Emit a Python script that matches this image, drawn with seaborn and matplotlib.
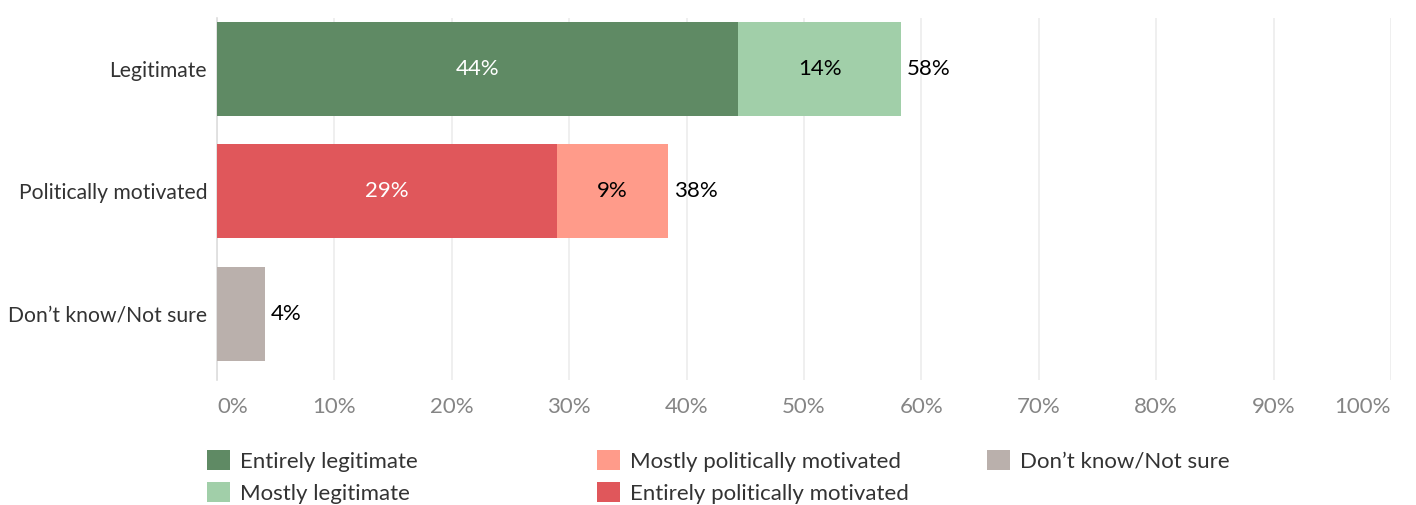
import pandas as pd
import matplotlib.pyplot as plt
import seaborn as sns
from matplotlib.patches import Patch

categories = ["Legitimate", "Politically motivated", "Don\u2019t know/Not sure"]
entirely = [44.4, 29.0, 4.1]
mostly = [13.9, 9.4, 0.0]
inner_labels = ["44%", "29%", None]
mostly_labels = ["14%", "9%", None]
total_labels = ["58%", "38%", "4%"]

inner_colors = ["#5f8a64", "#e0575b", "#bab0ac"]
outer_colors = ["#a1cfa9", "#ff9b8a", "#bab0ac"]

# legend is laid out column by column
legend_cols = [
    (["Entirely legitimate", "Mostly legitimate"], ["#5f8a64", "#a1cfa9"]),
    (["Mostly politically motivated", "Entirely politically motivated"], ["#ff9b8a", "#e0575b"]),
    (["Don\u2019t know/Not sure"], ["#bab0ac"]),
]
legend_x = [207, 597, 987]

df = pd.DataFrame({"category": categories, "entirely": entirely, "mostly": mostly})
df["total"] = df["entirely"] + df["mostly"]

sns.set_style("white")
plt.rcParams["font.family"] = ["Lato", "DejaVu Sans"]
fs = 16

fig = plt.figure(figsize=(14.16, 5.05), dpi=100)
ax = fig.add_axes([0.1532, 0.2475, 0.8291, 0.7169])

sns.barplot(data=df, y="category", x="total", hue="category",
            palette=dict(zip(categories, outer_colors)), legend=False,
            width=0.765, saturation=1, linewidth=0, ax=ax, zorder=2)
sns.barplot(data=df, y="category", x="entirely", hue="category",
            palette=dict(zip(categories, inner_colors)), legend=False,
            width=0.765, saturation=1, linewidth=0, ax=ax, zorder=3)

for i, row in df.iterrows():
    if inner_labels[i]:
        ax.text(row["entirely"] / 2, i, inner_labels[i], ha="center", va="center",
                color="white", fontsize=fs, zorder=4)
    if mostly_labels[i]:
        ax.text(row["entirely"] + row["mostly"] / 2, i, mostly_labels[i], ha="center",
                va="center", color="black", fontsize=fs, zorder=4)
    ax.text(row["total"] + 0.5, i, total_labels[i], ha="left", va="center",
            color="black", fontsize=fs, zorder=4)

ax.set_xlim(0, 100)
ax.set_ylim(2.54, -0.415)
ax.set_xticks(range(0, 101, 10))
ax.set_xticklabels([f"{t}%" for t in range(0, 101, 10)])
ticklabels = ax.get_xticklabels()
ticklabels[0].set_ha("left")
ticklabels[-1].set_ha("right")
ax.xaxis.grid(True, color="#ececec", linewidth=1.2, zorder=0)
ax.set_axisbelow(True)
ax.tick_params(axis="x", length=0, pad=12, labelsize=fs, labelcolor="#858585")
ax.tick_params(axis="y", length=0, pad=7, labelsize=15.2, labelcolor="#333333")
ax.set_xlabel("")
ax.set_ylabel("")
for s in ["top", "right", "bottom"]:
    ax.spines[s].set_visible(False)
ax.spines["left"].set_color("#dddddd")
ax.spines["left"].set_linewidth(1.2)

for (names, colors), x0 in zip(legend_cols, legend_x):
    handles = [Patch(facecolor=c, edgecolor="none") for c in colors]
    leg = fig.legend(handles, names, loc="upper left",
                     bbox_to_anchor=(x0 / 1416, 1 - 450 / 505),
                     frameon=False, fontsize=fs, labelcolor="#333333",
                     handlelength=1.05, handleheight=1.0, handletextpad=0.45,
                     labelspacing=0.48, borderpad=0, borderaxespad=0)

plt.savefig("out.png", dpi=100)
